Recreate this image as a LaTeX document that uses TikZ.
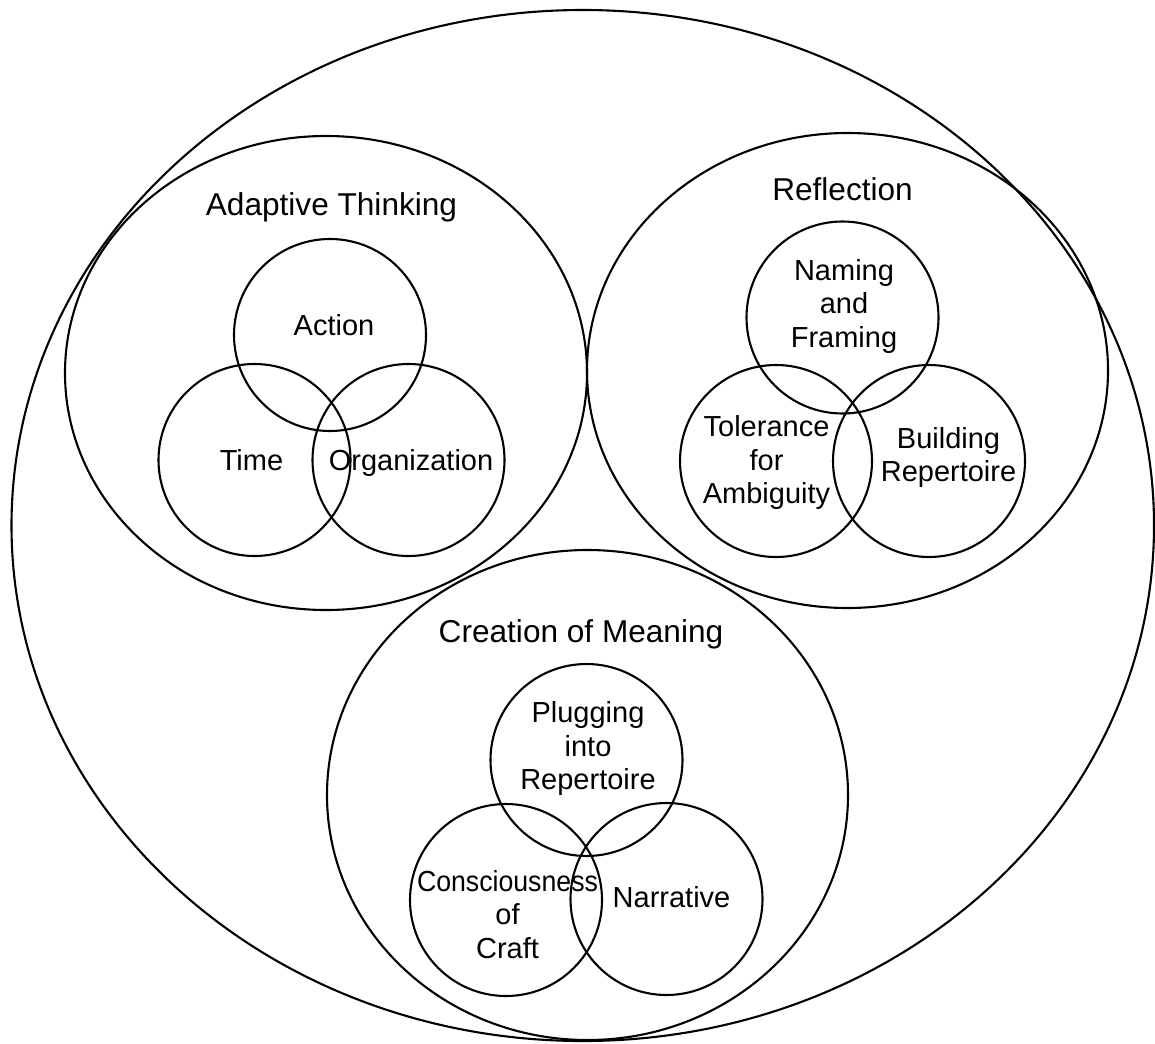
\documentclass[tikz,border=0pt]{standalone}
\usepackage{fontspec}
\usepackage{graphicx}
\setmainfont{Liberation Sans}
\usetikzlibrary{shapes.geometric}
\begin{document}
\begin{tikzpicture}[x=1pt,y=-1pt,
  lineshape/.style={draw=black, line width=2.1pt, inner sep=0pt, outer sep=0pt},
  bigell/.style={lineshape, ellipse},
  venn/.style={lineshape, circle, minimum size=192pt},
  headtxt/.style={font=\fontsize{31.6}{36}\selectfont, inner sep=0pt, anchor=base},
  basetxt/.style={font=\fontsize{29}{33.5}\selectfont, inner sep=0pt, anchor=base},
  innertxt/.style={font=\fontsize{29}{33.5}\selectfont, inner sep=0pt, align=center}]
\useasboundingbox (0,0) rectangle (1155,1043);
% outer and group ellipses
\node[bigell, minimum width=1142.5pt, minimum height=1031pt] (outer) at (582.75,525.5) {};
\node[bigell, minimum width=522pt, minimum height=474pt] (adapt) at (326,373) {};
\node[bigell, minimum width=521pt, minimum height=475pt] (refl) at (847.5,370.5) {};
\node[bigell, minimum width=521pt, minimum height=490pt] (creat) at (587.5,795) {};
% venn circles
\node[venn] (action) at (330,335) {};
\node[venn] (time) at (254.5,460) {};
\node[venn] (org) at (408.5,460) {};
\node[venn] (naming) at (842.5,317.5) {};
\node[venn] (toler) at (776,461) {};
\node[venn] (build) at (929,461) {};
\node[venn] (plug) at (586.5,760) {};
\node[venn] (consc) at (506,900) {};
\node[venn] (narr) at (666.5,899) {};
% headings
\node[headtxt] (tadapt) at (331.5,215) {Adaptive Thinking};
\node[headtxt] (trefl) at (842.5,200) {Reflection};
\node[headtxt] (tcreat) at (581,642) {Creation of Meaning};
% labels
\node[basetxt] (taction) at (334,335) {Action};
\node[basetxt] (ttime) at (251.5,470) {Time};
\node[basetxt] (torg) at (411,470) {Organization};
\node[innertxt] (tnaming) at (844,306) {Naming\\and\\Framing};
\node[innertxt] (ttoler) at (766.5,462.5) {Tolerance\\for\\Ambiguity};
\node[innertxt] (tbuild) at (948.5,457.5) {Building\\Repertoire};
\node[innertxt] (tplug) at (588,748.5) {Plugging\\into\\Repertoire};
\node[innertxt] (tconsc) at (507.5,914.6) {\scalebox{0.92}[1]{Consciousness}\\of\\Craft};
\node[basetxt] (tnarr) at (671.5,907) {Narrative};
\end{tikzpicture}
\end{document}
